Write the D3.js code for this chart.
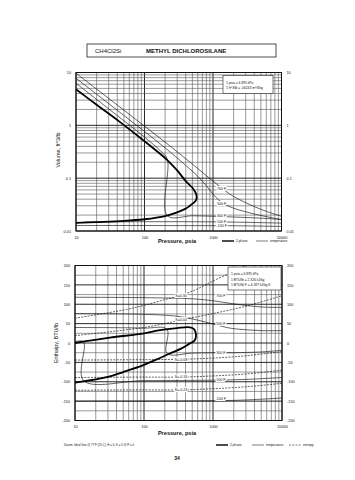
<!DOCTYPE html>
<html><head><meta charset="utf-8">
<script src="https://cdn.jsdelivr.net/npm/d3@7"></script>
<style>
body{margin:0;background:#fff}
svg{display:block}
text{font-family:"Liberation Sans",Arial,Helvetica,sans-serif;fill:#111}
</style>
</head><body>
<svg id="c" width="355" height="480"></svg>
<script>
// ---------------- DATA ----------------
const formula = "CH4Cl2Si";
const compoundName = "METHYL DICHLOROSILANE";
const pressureTicks = [10, 100, 1000, 10000];
const pressureTickLabels = ["10", "100", "1000", "10000"];
const volumeTicks = [0.01, 0.1, 1, 10];
const volumeTickLabels = ["0.01", "0.1", "1", "10"];
const enthalpyTicks = [-200, -150, -100, -50, 0, 50, 100, 150, 200];

// Volume chart: saturation dome (vapor branch then liquid branch), [psia, ft3/lb]
const volSatVapor = [[10,4.8],[20,2.45],[44,1.15],[100,0.5],[211,0.225],[300,0.14],[400,0.088],[500,0.066],[545,0.056],[570,0.049],[578,0.044]];
const volSatLiquid = [[578,0.044],[572,0.040],[555,0.037],[520,0.034],[460,0.030],[400,0.0265],[300,0.0225],[200,0.0192],[100,0.0167],[50,0.0155],[20,0.0147],[10,0.0142]];
// Volume isotherms
const volT700 = [[10,9.7],[20,4.85],[50,1.94],[100,0.965],[200,0.48],[500,0.185],[1000,0.088],[1500,0.058],[2000,0.045],[4000,0.029],[7000,0.022],[10000,0.019]];
const volT500 = [[10,7.8],[20,3.88],[50,1.54],[100,0.765],[200,0.375],[400,0.175],[600,0.108],[800,0.072],[1000,0.05],[1200,0.039],[1500,0.032],[2000,0.027],[4000,0.021],[7000,0.018],[10000,0.0165]];
const volT300 = [[10,6.25],[30,2.05],[100,0.6],[170,0.33],[215,0.23],[215,0.0195],[500,0.0194],[1000,0.0190],[2000,0.0184],[5000,0.0175],[10000,0.0165]];
const volT100 = [[13,0.0147],[100,0.0150],[1000,0.0149],[3000,0.0146],[10000,0.0141]];
const volTm100 = [[10,0.0127],[100,0.0127],[1000,0.0126],[3000,0.0125],[10000,0.0122]];
const volIsoLabels = ["700 F","500 F","300 F","100 F","-100 F"];
const volLabelPos = [[1340,0.063],[1340,0.033],[1340,0.0193],[1340,0.0153],[1340,0.0127]];

// Enthalpy chart [psia, BTU/lb]
const hSatVapor = [[10,0],[32,13.7],[100,25],[171,33.5],[300,38.5],[464,40.4],[530,36],[555,29],[567,20]];
const hSatLiquid = [[567,20],[560,12],[530,5],[464,-1],[350,-14],[238,-27],[150,-43],[98,-57],[50,-75],[32,-86],[20,-94],[10,-102]];
const hT700 = [[10,118],[100,117],[500,114],[1000,109],[2000,101],[5000,93],[10000,92]];
const hT500 = [[10,76],[100,74],[300,69],[600,59],[1000,49],[1500,41],[2000,37],[5000,32],[10000,32]];
const hT300 = [[10,40],[100,38.5],[215,35.5],[215,-27],[500,-26],[1000,-25],[2000,-25],[5000,-23],[10000,-19]];
const hT100 = [[10,3.5],[13.3,3],[13.3,-97],[100,-97],[1000,-96],[3000,-94],[10000,-89]];
const hTm100 = [[10,-150],[100,-150],[1000,-149],[3000,-147],[10000,-142]];
const hIsoLabels = ["700 F","500 F","300 F","100 F","-100 F"];
const hIsoLabelPos = [[1300,121],[1300,49],[1300,-25],[1300,-94],[1300,-145]];
const hS1 = [[10,64],[50,85],[100,97],[200,112],[333,122],[600,140],[1000,160],[2000,185],[3000,200]];
const hS2 = [[10,19],[50,33],[100,40],[200,50],[333,59],[600,68],[1000,76],[3000,95],[10000,122]];
const hS3 = [[10,-44],[100,-43],[344,-42],[1000,-39],[3000,-33],[10000,-22]];
const hS4 = [[10,-89],[100,-88],[344,-88],[1000,-85],[3000,-80],[10000,-70]];
const hS5 = [[10,-122],[100,-121],[344,-121],[1000,-118],[3000,-113],[10000,-104]];
const entropyLabels = ["S=0.30","S=0.04","S=-0.08","S=-0.16","S=-0.23"];
const entropyLabelPos = [[344,121],[344,59],[344,-42],[344,-88],[344,-121]];

// ---------------- DRAW ----------------
const svg = d3.select("#c");
const FONT = '"Liberation Sans",Arial,sans-serif';

// Title box
svg.append("rect").attr("x",87).attr("y",44).attr("width",189).attr("height",13)
  .attr("fill","none").attr("stroke","#222").attr("stroke-width",0.8);
svg.append("text").attr("x",95).attr("y",53).attr("font-size",6).text(formula);
svg.append("text").attr("x",146).attr("y",53).attr("font-size",6).attr("font-weight","bold").text(compoundName);

function logGrid(g, x, y, yLog){
  const xt = x.ticks(30);
  xt.forEach(v=>{
    const major = pressureTicks.includes(v);
    g.append("line").attr("x1",x(v)).attr("x2",x(v)).attr("y1",y.range()[0]).attr("y2",y.range()[1])
      .attr("stroke", major?"#111":"#555").attr("stroke-width", major?0.9:0.6);
  });
  const yt = yLog ? y.ticks(40) : d3.range(-200,201,25);
  yt.forEach(v=>{
    const major = yLog ? volumeTicks.includes(v) : (v%50===0);
    g.append("line").attr("y1",y(v)).attr("y2",y(v)).attr("x1",x.range()[0]).attr("x2",x.range()[1])
      .attr("stroke", major?"#111":"#555").attr("stroke-width", major?0.9:0.6);
  });
  g.append("rect").attr("x",x.range()[0]).attr("y",y.range()[1]).attr("width",x.range()[1]-x.range()[0])
    .attr("height",y.range()[0]-y.range()[1]).attr("fill","none").attr("stroke","#111").attr("stroke-width",1);
}

function mkLine(x,y){ return d3.line().x(d=>x(d[0])).y(d=>y(d[1])).curve(d3.curveCatmullRom.alpha(0.5)); }

function drawLabel(g,x,y,text,p,anchor){
  g.append("text").attr("x",x(p[0])).attr("y",y(p[1])+1.3).attr("font-size",3.6)
    .attr("text-anchor",anchor||"middle").attr("stroke","#fff").attr("stroke-width",2.2)
    .attr("paint-order","stroke").attr("stroke-linejoin","round").text(text);
}

function axesText(g, x, y, yTicks, yLabels){
  const yAxL = d3.axisLeft(y).tickValues(yTicks).tickFormat((d,i)=>yLabels[i]).tickSize(0).tickPadding(5);
  const gl = g.append("g").attr("transform",`translate(${x.range()[0]},0)`).call(yAxL);
  const yAxR = d3.axisRight(y).tickValues(yTicks).tickFormat((d,i)=>yLabels[i]).tickSize(0).tickPadding(5);
  const gr = g.append("g").attr("transform",`translate(${x.range()[1]},0)`).call(yAxR);
  const xAx = d3.axisBottom(x).tickValues(pressureTicks).tickFormat((d,i)=>pressureTickLabels[i]).tickSize(0).tickPadding(5);
  const gb = g.append("g").attr("transform",`translate(0,${y.range()[0]})`).call(xAx);
  [gl,gr,gb].forEach(a=>{ a.select(".domain").remove(); a.selectAll("text").attr("font-size",3.8).attr("font-family",FONT).attr("fill","#111"); });
}

// ---------- Top chart: Volume ----------
const xT = d3.scaleLog().domain([10,10000]).range([76,281.5]);
const yT = d3.scaleLog().domain([0.01,10]).range([231,72.5]);
const gT = svg.append("g");
logGrid(gT,xT,yT,true);
axesText(gT,xT,yT,volumeTicks,volumeTickLabels);
const lT = mkLine(xT,yT);
[volT700,volT500,volT300,volT100,volTm100].forEach(d=>{
  gT.append("path").attr("d",lT(d)).attr("fill","none").attr("stroke","#111").attr("stroke-width",0.65);
});
gT.append("path").attr("d",lT(volSatVapor.concat(volSatLiquid.slice(1)))).attr("fill","none").attr("stroke","#000").attr("stroke-width",1.8);
volIsoLabels.forEach((t,i)=>drawLabel(gT,xT,yT,t,volLabelPos[i]));
// conversion box
gT.append("rect").attr("x",223).attr("y",75.5).attr("width",50).attr("height",18).attr("fill","#fff").attr("stroke","#222").attr("stroke-width",0.6);
gT.append("text").attr("x",226).attr("y",83.5).attr("font-size",3.3).text("1 psia = 6.895 kPa");
gT.append("text").attr("x",226).attr("y",88.5).attr("font-size",3.3).text("1 ft^3/lb = .06243 m^3/kg");
gT.append("text").attr("x",177).attr("y",243).attr("text-anchor","middle").attr("font-size",5.6).attr("font-weight","bold").text("Pressure,  psia");
gT.append("text").attr("transform","translate(60,150) rotate(-90)").attr("text-anchor","middle").attr("font-size",5.4).text("Volume,  ft^3/lb");
// legend
gT.append("line").attr("x1",222).attr("x2",234).attr("y1",241).attr("y2",241).attr("stroke","#000").attr("stroke-width",1.4);
gT.append("text").attr("x",236).attr("y",242.2).attr("font-size",3.2).text("2-phase");
gT.append("line").attr("x1",256).attr("x2",268).attr("y1",241).attr("y2",241).attr("stroke","#222").attr("stroke-width",0.6);
gT.append("text").attr("x",270).attr("y",242.2).attr("font-size",3.2).text("temperature");

// ---------- Bottom chart: Enthalpy ----------
const xB = d3.scaleLog().domain([10,10000]).range([75,282]);
const yB = d3.scaleLinear().domain([-200,200]).range([420.5,265.5]);
const gB = svg.append("g");
logGrid(gB,xB,yB,false);
axesText(gB,xB,yB,enthalpyTicks,enthalpyTicks.map(String));
const lB = mkLine(xB,yB);
[hT700,hT500,hT300,hT100,hTm100].forEach(d=>{
  gB.append("path").attr("d",lB(d)).attr("fill","none").attr("stroke","#111").attr("stroke-width",0.65);
});
[hS1,hS2,hS3,hS4,hS5].forEach(d=>{
  gB.append("path").attr("d",lB(d)).attr("fill","none").attr("stroke","#111").attr("stroke-width",0.65).attr("stroke-dasharray","2,1.2");
});
gB.append("path").attr("d",lB(hSatVapor.concat(hSatLiquid.slice(1)))).attr("fill","none").attr("stroke","#000").attr("stroke-width",1.8);
hIsoLabels.forEach((t,i)=>drawLabel(gB,xB,yB,t,hIsoLabelPos[i]));
entropyLabels.forEach((t,i)=>drawLabel(gB,xB,yB,t,entropyLabelPos[i]));
gB.append("rect").attr("x",228).attr("y",267).attr("width",53).attr("height",23).attr("fill","#fff").attr("stroke","#222").attr("stroke-width",0.6);
gB.append("text").attr("x",231).attr("y",275).attr("font-size",3.3).text("1 psia = 6.895 kPa");
gB.append("text").attr("x",231).attr("y",280.5).attr("font-size",3.3).text("1 BTU/lb = 2.326 kJ/kg");
gB.append("text").attr("x",231).attr("y",286).attr("font-size",3.3).text("1 BTU/lb F = 4.187 kJ/kg K");
gB.append("text").attr("x",177).attr("y",435).attr("text-anchor","middle").attr("font-size",5.6).attr("font-weight","bold").text("Pressure,  psia");
gB.append("text").attr("transform","translate(58,343) rotate(-90)").attr("text-anchor","middle").attr("font-size",5.4).text("Enthalpy,  BTU/lb");
// legend
gB.append("text").attr("x",64).attr("y",446).attr("font-size",2.9).text("Datum: Ideal Gas @ 77 F (25 C), H = 0, S = 0 @ P = 0");
gB.append("line").attr("x1",216).attr("x2",228).attr("y1",445).attr("y2",445).attr("stroke","#000").attr("stroke-width",1.4);
gB.append("text").attr("x",230).attr("y",446.2).attr("font-size",3.2).text("2-phase");
gB.append("line").attr("x1",252).attr("x2",264).attr("y1",445).attr("y2",445).attr("stroke","#222").attr("stroke-width",0.6);
gB.append("text").attr("x",266).attr("y",446.2).attr("font-size",3.2).text("temperature");
gB.append("line").attr("x1",289).attr("x2",301).attr("y1",445).attr("y2",445).attr("stroke","#222").attr("stroke-width",0.6).attr("stroke-dasharray","2,1.2");
gB.append("text").attr("x",303).attr("y",446.2).attr("font-size",3.2).text("entropy");

svg.append("text").attr("x",177).attr("y",460).attr("text-anchor","middle").attr("font-size",5).attr("font-weight","bold").text("34");
</script>
</body></html>
